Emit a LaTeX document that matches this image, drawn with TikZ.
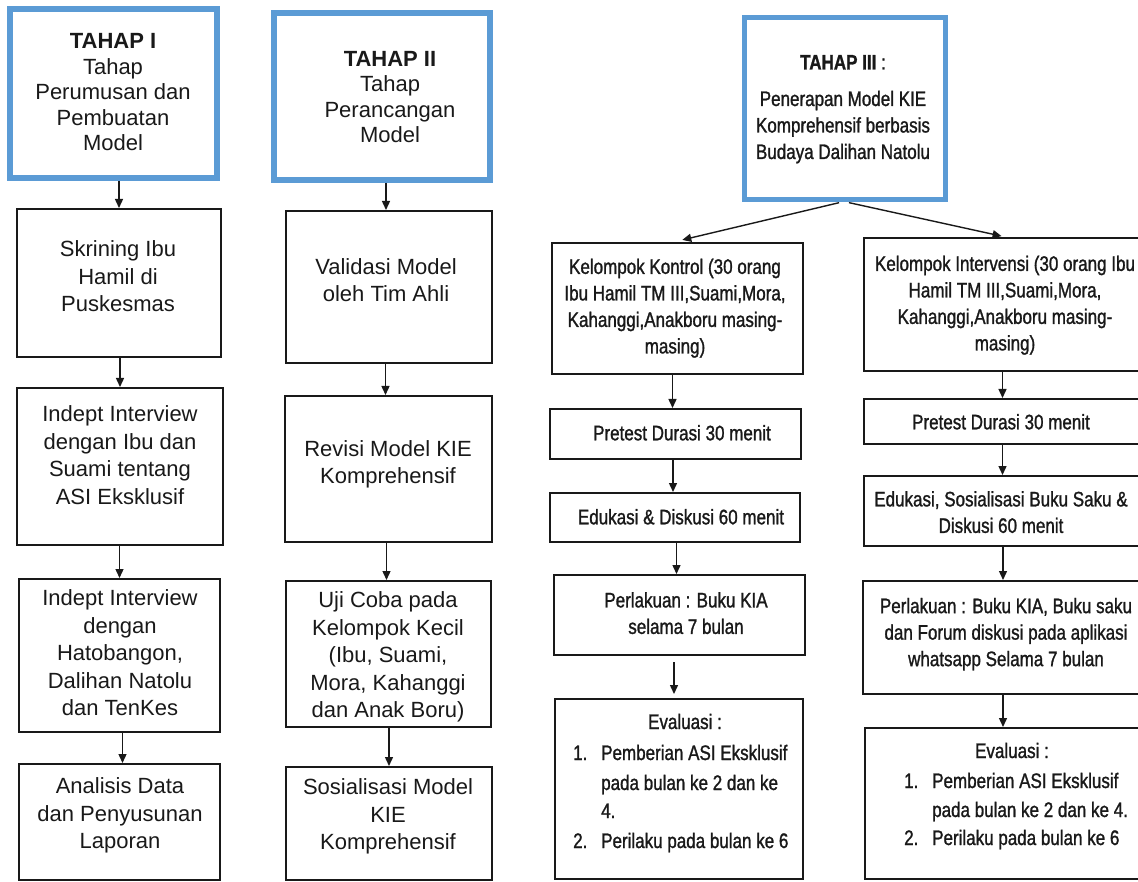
\documentclass[tikz,border=0pt]{standalone}
\usepackage{fontspec}
\setmainfont{Liberation Sans}
\newfontfamily\narrowsans[FakeStretch=0.81,FakeBold=1.2]{Liberation Sans}
\usetikzlibrary{arrows.meta}
\definecolor{phaseblue}{RGB}{91,155,213}
\definecolor{ink}{RGB}{25,25,25}
\begin{document}
\begin{tikzpicture}[x=1pt,y=-1pt,
  box/.style={draw=ink, line width=2pt, inner sep=0pt, rectangle},
  phase/.style={draw=phaseblue, line width=6pt, inner sep=0pt, rectangle},
  wide/.style={font=\fontsize{22}{27.5}\selectfont, text=ink, align=center, inner sep=0pt,
    execute at begin node=\strut, execute at end node=\strut},
  title/.style={wide, font=\fontsize{22}{25.5}\selectfont},
  slim/.style={font=\narrowsans\fontsize{21}{26.5}\selectfont, text=ink, align=center, inner sep=0pt,
    execute at begin node=\strut, execute at end node=\strut},
  item/.style={font=\narrowsans\fontsize{21}{26.5}\selectfont, text=ink, inner sep=0pt, anchor=base west},
  flow/.style={draw=ink, line width=1.4pt, -{Triangle[length=9pt,width=8pt]}},
]
\fill[white] (0,0) rectangle (1138,882);
\path[use as bounding box, clip] (0,0) rectangle (1138,882);

% ---------- Tahap I ----------
\node[phase, minimum width=207, minimum height=169] (t1) at (113.5,93.5) {};
\node[title] (t1t) at (113,96) {\textbf{TAHAP I}\\Tahap\\Perumusan dan\\Pembuatan\\Model};
\node[box, minimum width=204, minimum height=148] (skr) at (119,283) {};
\node[wide] (skrt) at (118,280.5) {Skrining Ibu\\Hamil di\\Puskesmas};
\node[box, minimum width=206, minimum height=157] (ind1) at (120,466.5) {};
\node[wide] (ind1t) at (120,459) {Indept Interview\\dengan Ibu dan\\Suami tentang\\ASI Eksklusif};
\node[box, minimum width=201, minimum height=153] (ind2) at (119.5,655.5) {};
\node[wide] (ind2t) at (120,657) {Indept Interview\\dengan\\Hatobangon,\\Dalihan Natolu\\dan TenKes};
\node[box, minimum width=201, minimum height=116] (ana) at (119.5,822) {};
\node[wide] (anat) at (120,817.5) {Analisis Data\\dan Penyusunan\\Laporan};

\draw[flow] (skr.north |- t1.south) -- (skr.north);
\draw[flow] (ind1.north |- skr.south) -- (ind1.north);
\draw[flow] (ind2.north |- ind1.south) -- (ind2.north);
\draw[flow] ([xshift=3pt]ana.north |- ind2.south) -- ([xshift=3pt]ana.north);

% ---------- Tahap II ----------
\node[phase, minimum width=216, minimum height=167] (t2) at (382,96.5) {};
\node[title] (t2t) at (390,101) {\textbf{TAHAP II}\\Tahap\\Perancangan\\Model};
\node[box, minimum width=206, minimum height=152] (val) at (389,287) {};
\node[wide] (valt) at (386,284) {Validasi Model\\oleh Tim Ahli};
\node[box, minimum width=207, minimum height=146] (rev) at (388.5,469) {};
\node[wide] (revt) at (388,466) {Revisi Model KIE\\Komprehensif};
\node[box, minimum width=205, minimum height=146] (uji) at (388.5,654) {};
\node[wide] (ujit) at (388,659) {Uji Coba pada\\Kelompok Kecil\\(Ibu, Suami,\\Mora, Kahanggi\\dan Anak Boru)};
\node[box, minimum width=206, minimum height=113] (sos) at (389,823.5) {};
\node[wide] (sost) at (388,818.5) {Sosialisasi Model\\KIE\\Komprehensif};

\draw[flow] ([xshift=-3pt]val.north |- t2.south) -- ([xshift=-3pt]val.north);
\draw[flow] ([xshift=-3pt]rev.north |- val.south) -- ([xshift=-3pt]rev.north);
\draw[flow] ([xshift=-2pt]uji.north |- rev.south) -- ([xshift=-2pt]uji.north);
\draw[flow] (sos.north |- uji.south) -- (sos.north);

% ---------- Tahap III ----------
\node[phase, line width=5pt, minimum width=201, minimum height=182] (t3) at (845,108.5) {};
\node[slim] (t3t) at (843,111) {\textbf{TAHAP III} :\\[10pt]Penerapan Model KIE\\Komprehensif berbasis\\Budaya Dalihan Natolu};

% control group
\node[box, minimum width=251, minimum height=131] (kon) at (677.5,308.5) {};
\node[slim] (kont) at (675,310) {Kelompok Kontrol (30 orang\\Ibu Hamil TM III,Suami,Mora,\\Kahanggi,Anakboru masing-\\masing)};
\node[box, minimum width=251, minimum height=50] (prek) at (675.5,434) {};
\node[slim] (prekt) at (682,435) {Pretest Durasi 30 menit};
\node[box, minimum width=250, minimum height=49] (eduk) at (675,517.5) {};
\node[slim] (edukt) at (681,519) {Edukasi \& Diskusi 60 menit};
\node[box, minimum width=251, minimum height=80] (perk) at (679.5,615) {};
\node[slim] (perkt) at (686,617) {Perlakuan : Buku KIA\\selama 7 bulan};
\node[box, minimum width=248, minimum height=180] (evak) at (679,789) {};
\node[item, anchor=base] (evakh) at (685,729) {Evaluasi :};
\node[item] (evak1n) at (573,760) {1.};
\node[item] (evak1) at (601,760) {Pemberian ASI Eksklusif};
\node[item] (evak1b) at (601,790) {pada bulan ke 2 dan ke};
\node[item] (evak1c) at (601,818) {4.};
\node[item] (evak2n) at (573,848) {2.};
\node[item] (evak2) at (601,848) {Perilaku pada bulan ke 6};

% intervention group
\node[box, minimum width=283, minimum height=133] (int) at (1005.5,304.5) {};
\node[slim] (intt) at (1005,307) {Kelompok Intervensi (30 orang Ibu\\Hamil TM III,Suami,Mora,\\Kahanggi,Anakboru masing-\\masing)};
\node[box, minimum width=283, minimum height=45] (prei) at (1005.5,421.5) {};
\node[slim] (preit) at (1001,424) {Pretest Durasi 30 menit};
\node[box, minimum width=283, minimum height=70] (edui) at (1005.5,511) {};
\node[slim] (eduit) at (1001,516) {Edukasi, Sosialisasi Buku Saku \&\\Diskusi 60 menit};
\node[box, minimum width=284, minimum height=113] (peri) at (1005,637.5) {};
\node[slim] (perit) at (1006,636) {Perlakuan : Buku KIA, Buku saku\\dan Forum diskusi pada aplikasi\\whatsapp Selama 7 bulan};
\node[box, minimum width=282, minimum height=151] (evai) at (1006,803.5) {};
\node[item, anchor=base] (evaih) at (1012,758) {Evaluasi :};
\node[item] (evai1n) at (904,788) {1.};
\node[item] (evai1) at (932,788) {Pemberian ASI Eksklusif};
\node[item] (evai1b) at (932,817) {pada bulan ke 2 dan ke 4.};
\node[item] (evai2n) at (904,845) {2.};
\node[item] (evai2) at (932,845) {Perilaku pada bulan ke 6};

% connectors of phase III
\draw[flow, shorten <=3pt, shorten >=9pt] ([xshift=-3pt]t3.south) -- ([xshift=-4pt]kon.north);
\draw[flow, shorten <=3pt, shorten >=4pt] ([xshift=1pt]t3.south) -- (int.north);
\draw[flow] ([xshift=-3pt]prek.north |- kon.south) -- ([xshift=-3pt]prek.north);
\draw[flow] ([xshift=-2pt]eduk.north |- prek.south) -- ([xshift=-2pt]eduk.north);
\draw[flow] ([xshift=-3pt]perk.north |- eduk.south) -- ([xshift=-3pt]perk.north);
\draw[flow, shorten <=6pt, shorten >=4pt] ([xshift=-5pt]evak.north |- perk.south) -- ([xshift=-5pt]evak.north);
\draw[flow] ([xshift=-3pt]prei.north |- int.south) -- ([xshift=-3pt]prei.north);
\draw[flow] ([xshift=-3pt]edui.north |- prei.south) -- ([xshift=-3pt]edui.north);
\draw[flow] ([xshift=-2pt]peri.north |- edui.south) -- ([xshift=-2pt]peri.north);
\draw[flow] ([xshift=-3pt]evai.north |- peri.south) -- ([xshift=-3pt]evai.north);
\end{tikzpicture}
\end{document}
